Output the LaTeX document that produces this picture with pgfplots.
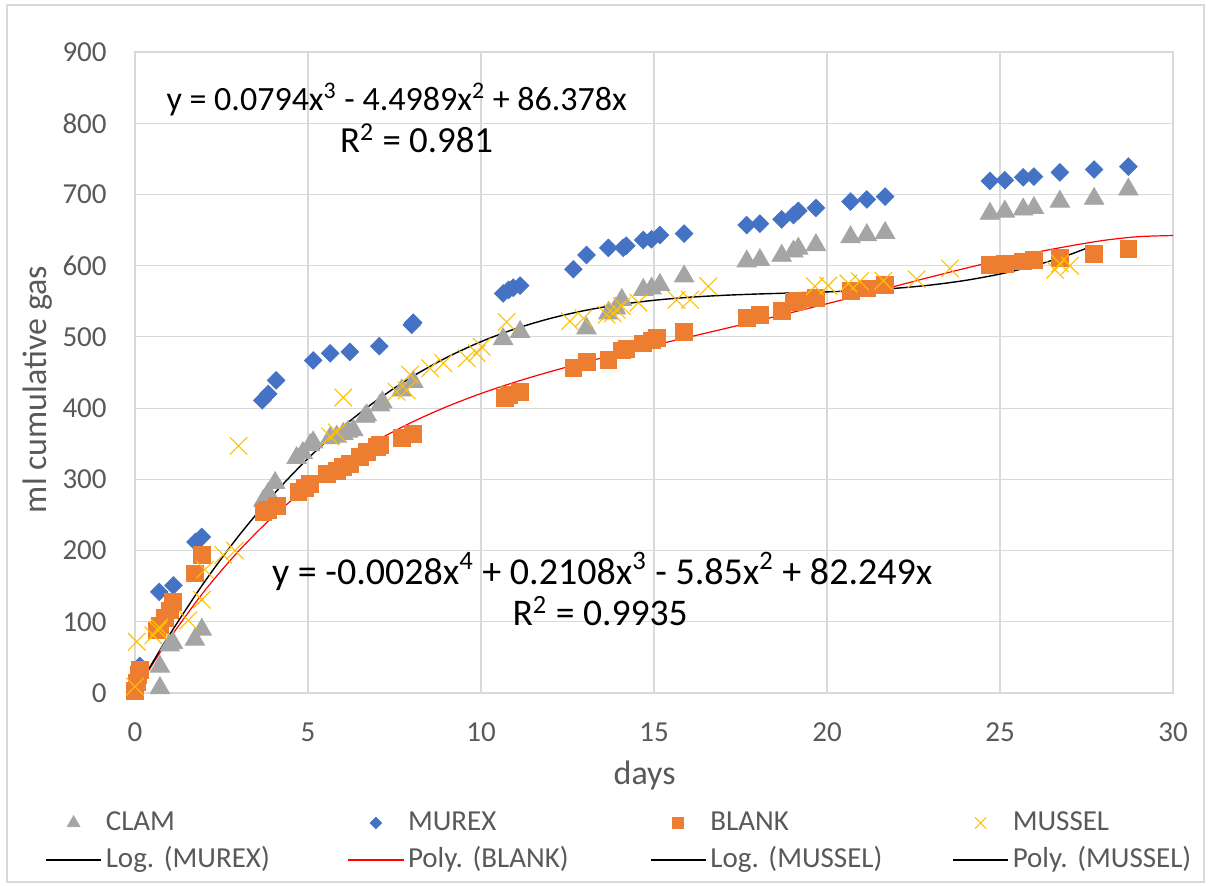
\documentclass[border=0pt]{standalone}
\usepackage{pgfplots}
\pgfplotsset{compat=1.18}
\usepackage{fontspec}
\setmainfont{Carlito}
\frenchspacing

\definecolor{clam}{HTML}{A5A5A5}
\definecolor{murex}{HTML}{4472C4}
\definecolor{blank}{HTML}{ED7D31}
\definecolor{mussel}{HTML}{FFC000}
\definecolor{gridc}{HTML}{D9D9D9}
\definecolor{txt}{HTML}{595959}

\newcommand{\tickfont}{\fontsize{14.5bp}{17bp}\selectfont}
\newcommand{\titlefont}{\fontsize{17bp}{20bp}\selectfont}

\begin{document}
\begin{tikzpicture}
\useasboundingbox (0,0) rectangle (605bp,443bp);
\draw[gridc, line width=0.6bp] (3.5bp,2bp) rectangle (602bp,440.5bp);
\begin{axis}[
  at={(67.5bp,96.5bp)}, anchor=south west,
  scale only axis, width=519bp, height=320.5bp,
  xmin=0, xmax=30, ymin=0, ymax=900,
  xtick={0,5,...,30}, ytick={0,100,...,900},
  grid=major, grid style={gridc, line width=0.6bp},
  axis line style={gridc, line width=0.6bp},
  major tick length=0pt,
  /pgf/number format/assume math mode=true,
  ticklabel style={font=\tickfont, text=txt, inner sep=0pt},
  yticklabel style={anchor=east, xshift=-14bp},
  xticklabel style={anchor=north, yshift=-14.5bp},
  xlabel={days}, ylabel={ml cumulative gas},
  xlabel style={font=\titlefont, text=txt, at={(axis description cs:0.491,-0.128)}, anchor=center},
  ylabel style={font=\titlefont, text=txt, at={(axis description cs:-0.0934,0.4735)}, anchor=center, rotate=0},
  clip=false,
  legend columns=4,
  legend image code/.code={%
    \begin{scope}[every mark/.append style={scale=0.65}]
      \draw[mark repeat=2, mark phase=2, #1] plot coordinates {(0bp,0bp) (13.75bp,0bp) (27.5bp,0bp)};
    \end{scope}},
  legend style={
    at={(axis description cs:-0.0867,-0.2317)}, anchor=west,
    draw=none, fill=none, inner sep=0pt, row sep=5.5bp,
    font=\tickfont, text=txt,
    nodes={inner sep=0pt, text height=10bp, text depth=3bp, text width=121bp, align=left},
    /tikz/every odd column/.append style={column sep=2bp},
  },
]

% CLAM
\addplot[only marks, mark=triangle*, color=clam, mark size=5.6bp] coordinates {
(0.72,7) (0.72,37) (1.0,67) (1.1,70) (1.73,75) (1.93,89)
(3.71,270) (3.85,280) (4.05,295) (4.67,330) (4.85,337) (5.06,348) (5.15,352)
(5.64,358) (5.83,360) (6.02,364) (6.16,367) (6.31,369) (6.65,388) (6.7,390)
(7.08,404) (7.15,408) (7.71,425) (8.04,437) (10.64,497) (11.13,507)
(13.05,512) (13.68,533) (13.9,540) (14.07,552) (14.69,566) (14.93,568)
(15.17,573) (15.87,585) (17.68,606) (18.06,608) (18.69,614) (19.03,620)
(19.17,624) (19.68,629) (20.68,640) (21.15,643) (21.68,646) (24.71,673)
(25.14,676) (25.67,679) (25.98,681) (26.73,690) (27.72,694) (28.71,707)
};
\addlegendentry{CLAM}

% MUREX
\addplot[only marks, mark=square*, mark options={rotate=45}, color=murex, mark size=3.1bp] coordinates {
(0.14,38) (0.7,142) (1.11,151) (1.75,212) (1.93,219)
(3.68,411) (3.85,420) (4.08,439) (5.15,467) (5.64,477) (6.21,479) (7.06,487)
(8.0,517) (8.04,520) (10.64,561) (10.8,566) (10.93,569) (11.13,572)
(12.67,595) (13.05,615) (13.68,625) (14.11,625) (14.2,628) (14.69,636)
(14.93,637) (15.17,643) (15.87,645) (17.68,657) (18.06,659) (18.69,665)
(19.03,671) (19.17,677) (19.68,681) (20.68,690) (21.15,693) (21.68,697)
(24.71,719) (25.14,720) (25.67,724) (25.98,725) (26.73,731) (27.72,735) (28.71,739)
};
\addlegendentry{MUREX}

% BLANK
\addplot[only marks, mark=square*, color=blank, mark size=4.2bp] coordinates {
(0,3) (0.05,15) (0.1,25) (0.14,32) (0.63,88) (0.72,95) (0.87,105) (1.01,116)
(1.1,128) (1.73,168) (1.93,194) (3.71,254) (3.85,257) (4.1,263) (4.72,282)
(4.9,288) (5.06,294) (5.54,308) (5.83,312) (6.02,318) (6.21,322) (6.5,332)
(6.7,338) (7.0,345) (7.08,348) (7.71,358) (8.04,364) (10.69,414) (10.8,418)
(11.13,423) (12.67,456) (13.05,465) (13.68,468) (14.07,481) (14.2,483)
(14.69,491) (14.93,495) (15.08,499) (15.87,507) (17.68,527) (18.06,531)
(18.69,537) (19.03,549) (19.17,551) (19.68,555) (20.68,565) (21.15,568)
(21.68,573) (24.71,601) (25.14,603) (25.67,606) (25.98,608) (26.73,611)
(27.72,617) (28.71,623)
};
\addlegendentry{BLANK}

% MUSSEL
\addplot[only marks, mark=x, color=mussel, mark size=6.2bp, line width=0.55bp] coordinates {
(0,9) (0.05,72) (0.53,81) (0.67,88) (0.7,92) (1.54,102) (1.93,131) (2.02,173)
(2.55,194) (2.89,200) (2.99,347) (5.64,360) (5.83,366) (6.02,415) (7.56,423)
(7.85,425) (7.95,447) (8.53,456) (8.91,463) (9.59,470) (9.88,477) (10.02,486)
(10.74,521) (12.57,522) (12.96,526) (13.63,531) (13.81,533) (13.92,538)
(14.07,543) (14.55,548) (15.65,552) (16.04,552) (16.57,571) (19.65,571)
(20.04,572) (20.62,575) (20.95,578) (21.63,579) (22.59,581) (23.55,596)
(26.59,594) (26.73,603) (27.02,600)
};
\addlegendentry{MUSSEL}

\addlegendimage{black, line width=0.7bp}
\addlegendentry{Log. (MUREX)}

% polynomial trendline, BLANK
\addplot[red, line width=0.6bp, smooth] coordinates {
(0,0) (0.5,39.7) (1,76.61) (2,142.74) (3,199.56) (4,248.18) (5,289.61)
(6,324.83) (7,354.72) (8,380.13) (9,401.82) (10,420.49) (11,436.75)
(12,451.20) (13,464.32) (14,476.54) (15,488.20) (16,499.63) (17,511.05)
(18,522.62) (19,534.45) (20,546.58) (21,558.91) (22,571.48) (23,584.13)
(24,596.31) (25,607.79) (26,618.38) (27,627.53) (28,635.53) (29,640.73) (30,642.3)
};
\addlegendentry{Poly. (BLANK)}

\addlegendimage{black, line width=0.7bp}
\addlegendentry{Log. (MUSSEL)}

% polynomial trendline, MUSSEL
\addplot[black, line width=0.7bp, smooth] coordinates {
(0,0) (0.5,42.07) (1,81.96) (2,155.40) (3,220.79) (4,278.61) (5,329.34)
(6,373.46) (7,411.43) (8,443.75) (9,470.87) (10,493.29) (11,511.47)
(12,525.90) (13,537.04) (14,545.38) (15,551.39) (16,555.55) (17,558.34)
(18,560.22) (19,561.68) (20,563.2) (21,565.25) (22,568.30) (23,572.84)
(24,579.33) (25,588.26) (26,600.09) (27,615.30) (27.7,628.4)
};
\addlegendentry{Poly. (MUSSEL)}

\node[anchor=base west, inner sep=0pt, font=\fontsize{17bp}{20bp}\selectfont] at (axis cs:0.9,817.2)
  {y = 0.0794x\textsuperscript{3} - 4.4989x\textsuperscript{2} + 86.378x};
\node[anchor=base west, inner sep=0pt, font=\fontsize{18.4bp}{21bp}\selectfont] at (axis cs:5.92,758.2)
  {R\textsuperscript{2} = 0.981};
\node[anchor=base west, inner sep=0pt, font=\fontsize{19bp}{22bp}\selectfont] at (axis cs:3.95,153)
  {y = -0.0028x\textsuperscript{4} + 0.2108x\textsuperscript{3} - 5.85x\textsuperscript{2} + 82.249x};
\node[anchor=base west, inner sep=0pt, font=\fontsize{18.8bp}{21bp}\selectfont] at (axis cs:10.9,94.1)
  {R\textsuperscript{2} = 0.9935};
\end{axis}
\end{tikzpicture}
\end{document}
